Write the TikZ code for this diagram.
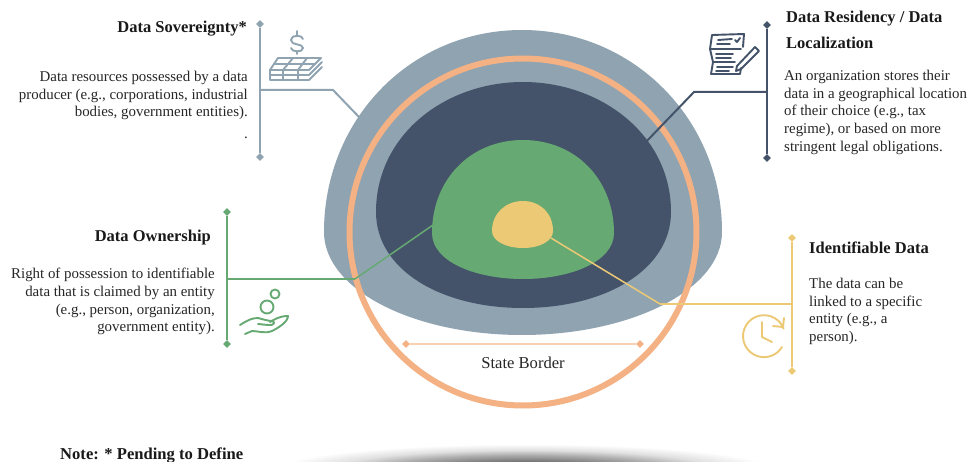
\documentclass[tikz,border=0pt]{standalone}
\usepackage{fontspec}
\setmainfont{Liberation Serif}
\usetikzlibrary{shapes.geometric}
\definecolor{cgrey}{HTML}{8FA3B1}
\definecolor{cdark}{HTML}{445369}
\definecolor{cgreen}{HTML}{66A973}
\definecolor{cyel}{HTML}{ECC975}
\definecolor{corange}{HTML}{F4B183}
\definecolor{cpale}{HTML}{F7CFB2}
\pgfdeclareradialshading{groundshadow}{\pgfpoint{0bp}{0bp}}{%
  color(0bp)=(black!65); color(7.75bp)=(black!56); color(14.5bp)=(black!32); color(19.25bp)=(black!12); color(25bp)=(white); color(50bp)=(white)}
\tikzset{
  title/.style={inner sep=0pt,font=\fontsize{16.5}{20}\selectfont\bfseries,text=black!90},
  bodyr/.style={inner sep=0pt,align=right,font=\fontsize{14.9}{17.7}\selectfont,text=black!85},
  bodyl/.style={inner sep=0pt,align=left,font=\fontsize{14.9}{17.7}\selectfont,text=black!85},
  tick/.style={diamond,fill=#1,inner sep=0pt,minimum size=8pt},
  lead/.style={line width=2pt,draw=#1},
  thin lead/.style={line width=1.5pt,draw=#1},
  icon/.style={line width=1.9pt,draw=#1,line cap=round,line join=round},
}
\begin{document}
\begin{tikzpicture}[x=1pt,y=-1pt]
\useasboundingbox (0,0) rectangle (969,462);
\fill[white] (0,0) rectangle (969,462);
% ground shadow
\begin{scope}
\clip (0,0) rectangle (969,462);
\shade[shading=groundshadow] (525,470) ellipse (250pt and 26pt);
\end{scope}
% dome layers
\fill[cgrey] (324,232) .. controls (324,120) and (410,30) .. (522,30) .. controls (634,30) and (722,120) .. (722,232) .. controls (722,290) and (630,335) .. (522,335) .. controls (414,335) and (324,290) .. (324,232) -- cycle;
\fill[cdark] (376,212) .. controls (376,135) and (445,82) .. (523,82) .. controls (601,82) and (671,135) .. (671,212) .. controls (671,270) and (605,308) .. (523,308) .. controls (441,308) and (376,270) .. (376,212) -- cycle;
\fill[cgreen] (432,233) .. controls (432,180) and (470,140) .. (523,140) .. controls (576,140) and (614,180) .. (614,233) .. controls (614,262) and (570,279) .. (523,279) .. controls (476,279) and (432,262) .. (432,233) -- cycle;
\fill[cyel] (492,231) .. controls (492,213) and (506,201) .. (523,201) .. controls (540,201) and (553,213) .. (553,231) .. controls (553,241) and (540,248) .. (523,248) .. controls (506,248) and (492,241) .. (492,231) -- cycle;
% state border
\node[circle,draw=corange,line width=6pt,minimum size=347pt,inner sep=0pt] (border) at (523,232) {};
\node[tick=corange] (sbL) at (406,344) {};
\node[tick=corange] (sbR) at (640,344) {};
\draw[line width=2pt,draw=cpale] (sbL) -- (sbR);
\node[inner sep=0pt,font=\fontsize{16.6}{20}\selectfont,text=black!85] (sbT) at (523,363) {State Border};
% Sovereignty
\node[tick=cgrey] (sovT) at (260,24) {};
\node[tick=cgrey] (sovB) at (260,157) {};
\draw[lead=cgrey] (sovT) -- (sovB);
\coordinate (sovJ) at (260,90);
\coordinate (sovK) at (333,90);
\coordinate (sovE) at (359,117);
\draw[lead=cgrey] (sovJ) -- (sovK) -- (sovE);
\node[title,anchor=east] (sovH) at (247,29) {Data  Sovereignty*};
\node[bodyr,anchor=north east] (sovD) at (248,71) {Data resources possessed by a data\\producer (e.g., corporations, industrial\\bodies, government entities).\\[4pt].};
% Residency
\node[tick=cdark] (resT) at (767,25) {};
\node[tick=cdark] (resB) at (767,158) {};
\draw[lead=cdark] (resT) -- (resB);
\coordinate (resJ) at (767,92);
\coordinate (resK) at (694,92);
\coordinate (resE) at (643,145);
\draw[lead=cdark] (resJ) -- (resK) -- (resE);
\node[title,anchor=north west,align=left,font=\fontsize{16.5}{26}\selectfont\bfseries] (resH) at (786,11) {Data  Residency / Data\\Localization};
\node[bodyl,anchor=north west] (resD) at (784,70) {An organization stores their\\data in a geographical location\\of their choice (e.g., tax\\regime), or based on more\\stringent legal obligations.};
% Ownership
\node[tick=cgreen] (ownT) at (227,212) {};
\node[tick=cgreen] (ownB) at (227,344) {};
\draw[lead=cgreen] (ownT) -- (ownB);
\coordinate (ownJ) at (227,279);
\coordinate (ownK) at (355,279);
\coordinate (ownE) at (433,225);
\draw[lead=cgreen] (ownJ) -- (ownK);
\draw[thin lead=cgreen] (ownK) -- (ownE);
\node[title,anchor=east] (ownH) at (211,238) {Data  Ownership};
\node[bodyr,anchor=north east] (ownD) at (215,268) {Right of possession to identifiable\\data that is claimed by an entity\\(e.g., person, organization,\\government entity).};
% Identifiable
\node[tick=cyel] (idT) at (792,238) {};
\node[tick=cyel] (idB) at (792,371) {};
\draw[lead=cyel] (idT) -- (idB);
\coordinate (idJ) at (792,304);
\coordinate (idK) at (660,304);
\coordinate (idE) at (551,238);
\draw[lead=cyel] (idJ) -- (idK);
\draw[thin lead=cyel] (idK) -- (idE);
\node[title,anchor=west] (idH) at (809,248) {Identifiable Data};
\node[bodyl,anchor=north west] (idD) at (809,278) {The data can be\\linked to a specific\\entity (e.g., a\\person).};
% icon: money
\begin{scope}[icon=cgrey]
\draw (303,39) .. controls (303,35) and (291,34) .. (291,40) .. controls (291,46) and (303,43) .. (303,48) .. controls (303,53) and (291,52) .. (291,48);
\draw (297,31) -- (297,35) (297,51) -- (297,54);
\draw (278,58) -- (321,58) -- (309,70) -- (270,70) -- cycle;
\draw (275,64) -- (315,64);
\draw (293,58) -- (283,70) (307,58) -- (298,70);
\draw (270,70) -- (270,80) -- (309,80) -- (322,67);
\draw (270,75) -- (309,75) -- (322,62);
\draw (283,70) -- (283,80) (298,70) -- (298,80);
\end{scope}
% icon: document
\begin{scope}[icon=cdark]
\draw (743,47) -- (744,34) -- (712,35) -- (710,49) -- (713,62) -- (711,74) -- (740,74) -- (741,68);
\draw (710,49) -- (741,49) (713,62) -- (735,62);
\draw (718,40) -- (732,39) (717,44) -- (730,44);
\draw (716,54) -- (733,54) (716,58) -- (731,58);
\draw (717,67) -- (733,67) (716,71) -- (729,71);
\draw (735,40) -- (737,42) -- (740,38);
\draw (737,66) -- (755,47) -- (759,51) -- (741,69) -- (736,71) -- cycle;
\end{scope}
% icon: hand and coins
\begin{scope}[icon=cgreen]
\draw (267,307) circle (6.5pt);
\draw (275,294) circle (4.5pt);
\draw (240,325) .. controls (248,320) and (252,318) .. (258,318) .. controls (262,319) and (268,321) .. (272,321) .. controls (276,322) and (274,326) .. (268,325) -- (258,324);
\draw (270,322) .. controls (275,319) and (280,316) .. (288,316) .. controls (288,322) and (278,328) .. (272,331) .. controls (265,334) and (258,331) .. (252,331) -- (245,334);
\end{scope}
% icon: clock
\begin{scope}[icon=cyel]
\draw (782,347) arc[start angle=-31,end angle=-339,radius=21pt];
\draw (762,322) -- (762,337) -- (772,342);
\draw (773,326) -- (783,327) -- (784,318);
\end{scope}
% note
\node[inner sep=0pt,anchor=west,font=\fontsize{16.6}{20}\selectfont\bfseries,text=black!90] (note) at (60,455) {Note: * Pending  to Define};
\end{tikzpicture}
\end{document}
